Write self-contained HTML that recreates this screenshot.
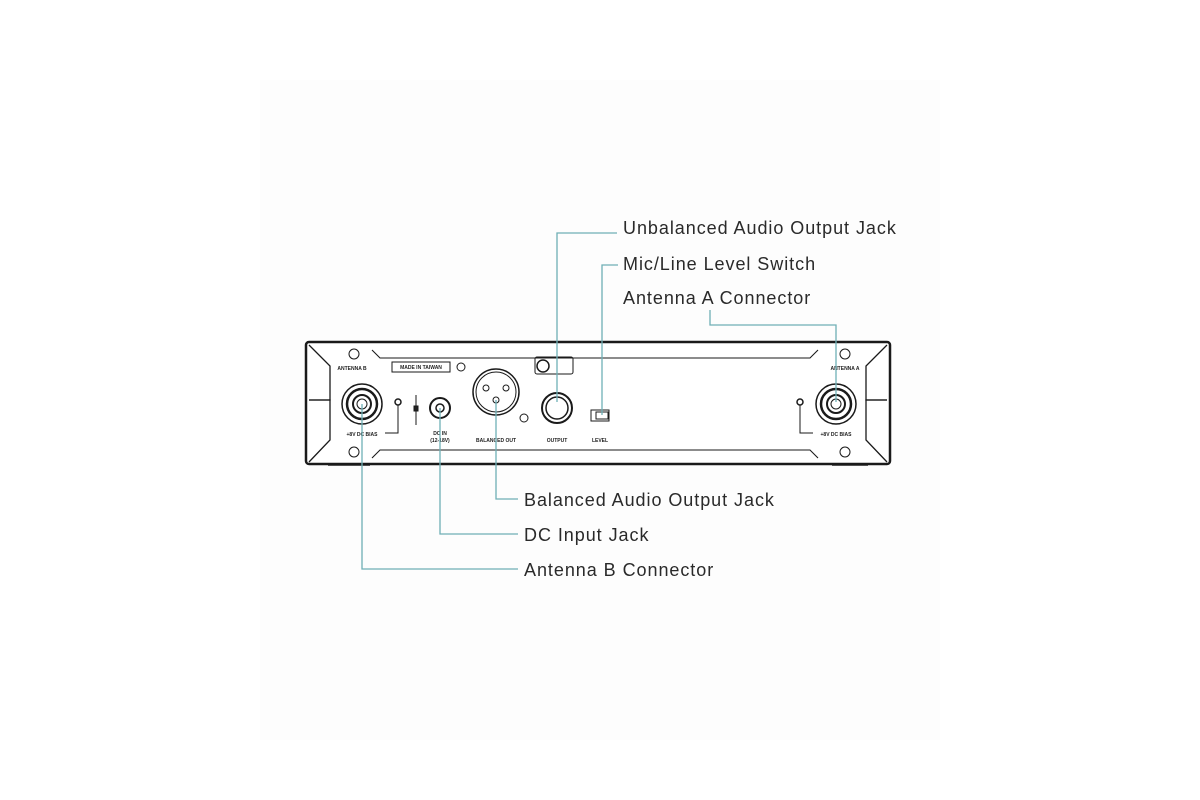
<!DOCTYPE html>
<html><head><style>
html,body{margin:0;padding:0;background:#fff;width:1200px;height:800px;overflow:hidden}
svg{display:block}
text.l{font-family:"Liberation Sans",sans-serif;font-size:18px;fill:#2a2a2a;letter-spacing:0.95px}
text.s{font-family:"Liberation Sans",sans-serif;font-size:5px;fill:#222;font-weight:bold}
</style></head><body>
<svg width="1200" height="800" viewBox="0 0 1200 800">
<rect x="260" y="80" width="680" height="660" fill="#fdfdfd"/>
<g fill="none" stroke="#1a1a1a">
<rect x="306" y="342" width="584" height="122" rx="3" stroke-width="2.5" fill="#fff"/>
<path d="M309 345 L330 366 L330 400 L309 400" stroke-width="1.3"/>
<path d="M309 400 L330 400 L330 440 L309 462" stroke-width="1.3"/>
<path d="M887 345 L866 366 L866 400 L887 400" stroke-width="1.3"/>
<path d="M887 400 L866 400 L866 440 L887 462" stroke-width="1.3"/>
<path d="M372 350 L380 358 L810 358 L818 350" stroke-width="1.1"/>
<path d="M372 458 L380 450 L810 450 L818 458" stroke-width="1.1"/>
<line x1="328" y1="465" x2="370" y2="465" stroke-width="1.5"/>
<line x1="832" y1="465" x2="868" y2="465" stroke-width="1.5"/>
<circle cx="354" cy="354" r="5"/><circle cx="354" cy="452" r="5"/>
<circle cx="845" cy="354" r="5"/><circle cx="845" cy="452" r="5"/>
<circle cx="362" cy="404" r="20" stroke-width="1.5"/>
<circle cx="362" cy="404" r="15" stroke-width="2.5"/>
<circle cx="362" cy="404" r="9" stroke-width="2"/>
<circle cx="362" cy="404" r="5"/>
<circle cx="398" cy="402" r="3" stroke-width="1.5"/>
<path d="M398 405 L398 433 L385 433"/>
<circle cx="836" cy="404" r="20" stroke-width="1.5"/>
<circle cx="836" cy="404" r="15" stroke-width="2.5"/>
<circle cx="836" cy="404" r="9" stroke-width="2"/>
<circle cx="836" cy="404" r="5"/>
<circle cx="800" cy="402" r="3" stroke-width="1.5"/>
<path d="M800 405 L800 433 L813 433"/>
<rect x="392" y="362" width="58" height="10" stroke-width="1"/>
<line x1="416" y1="395" x2="416" y2="425"/>
<rect x="414" y="406" width="4" height="5" fill="#222"/>
<circle cx="440" cy="408" r="10" stroke-width="2"/>
<circle cx="440" cy="408" r="4" stroke-width="1.5"/>
<circle cx="461" cy="367" r="4"/>
<circle cx="524" cy="418" r="4"/>
<circle cx="496" cy="392" r="23" stroke-width="1.5"/>
<circle cx="496" cy="392" r="20"/>
<circle cx="486" cy="388" r="3"/><circle cx="506" cy="388" r="3"/><circle cx="496" cy="400" r="3"/>
<rect x="535" y="357" width="38" height="17" rx="2"/>
<circle cx="543" cy="366" r="6" stroke-width="1.5"/>
<circle cx="557" cy="408" r="15" stroke-width="2"/>
<circle cx="557" cy="408" r="11" stroke-width="1.5"/>
<rect x="591" y="410" width="18" height="11"/>
<rect x="596" y="412" width="12" height="7"/>
</g>
<text class="s" x="352" y="370" text-anchor="middle">ANTENNA B</text>
<text class="s" x="362" y="436" text-anchor="middle">+8V DC BIAS</text>
<text class="s" x="421" y="369" text-anchor="middle">MADE IN TAIWAN</text>
<text class="s" x="440" y="435" text-anchor="middle">DC IN</text>
<text class="s" x="440" y="442" text-anchor="middle">(12-18V)</text>
<text class="s" x="496" y="442" text-anchor="middle">BALANCED OUT</text>
<text class="s" x="557" y="442" text-anchor="middle">OUTPUT</text>
<text class="s" x="600" y="442" text-anchor="middle">LEVEL</text>
<text class="s" x="845" y="370" text-anchor="middle">ANTENNA A</text>
<text class="s" x="836" y="436" text-anchor="middle">+8V DC BIAS</text>
<g fill="none" stroke="#6fb0b6" stroke-width="1.3">
<path d="M617 233 L557 233 L557 402"/>
<path d="M618 265 L602 265 L602 415"/>
<path d="M710 310 L710 325 L836 325 L836 402"/>
<path d="M496 400 L496 499 L518 499"/>
<path d="M440 408 L440 534 L518 534"/>
<path d="M362 404 L362 569 L518 569"/>
</g>
<text class="l" x="623" y="234">Unbalanced Audio Output Jack</text>
<text class="l" x="623" y="270">Mic/Line Level Switch</text>
<text class="l" x="623" y="304">Antenna A Connector</text>
<text class="l" x="524" y="506">Balanced Audio Output Jack</text>
<text class="l" x="524" y="541">DC Input Jack</text>
<text class="l" x="524" y="576">Antenna B Connector</text>
</svg>
</body></html>
